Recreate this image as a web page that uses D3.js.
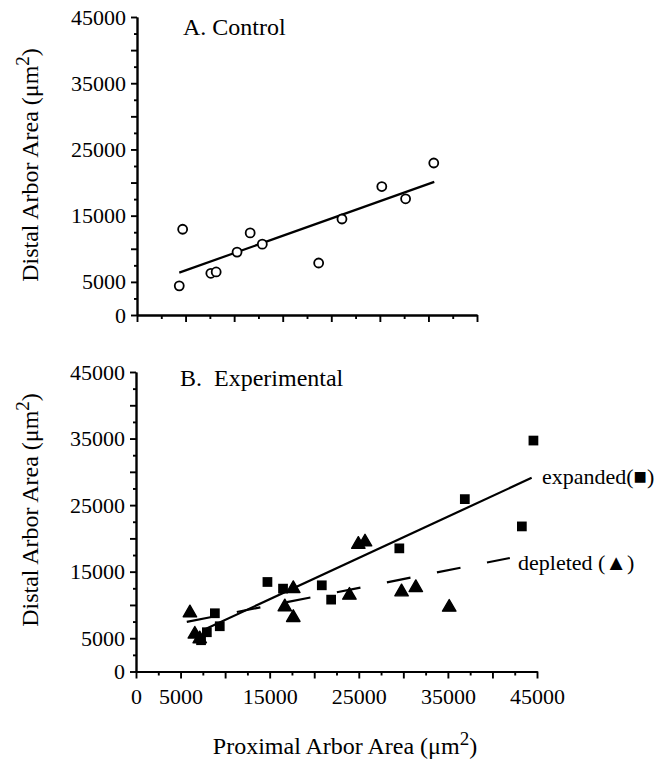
<!DOCTYPE html>
<html>
<head>
<meta charset="utf-8">
<script src="https://cdn.jsdelivr.net/npm/d3@7"></script>
<style>
  body { margin: 0; background: #fff; }
  svg text { font-family: "Liberation Serif", "DejaVu Serif", serif; fill: #000; }
</style>
</head>
<body>
<div id="chart"></div>
<script>
// Panel A: control arbors (open circles)
const controlX = [4700, 4350, 7600, 8150, 10300, 11650, 12900, 18700, 21100, 25200, 27650, 30550];
const controlY = [12950, 4400, 6300, 6500, 9500, 12400, 10700, 7850, 14500, 19400, 17550, 22950];
const controlFitX = [4350, 30600];
const controlFitY = [6400, 20100];

// Panel B: expanded (filled squares) and depleted (filled triangles)
const expandedX = [8850, 9400, 7300, 7950, 14750, 16500, 20850, 21900, 29550, 36900, 43300, 44600];
const expandedY = [8750, 6800, 4700, 5900, 13450, 12450, 12950, 10800, 18500, 25900, 21800, 34700];
const depletedX = [6050, 6600, 7150, 16700, 17650, 17650, 24950, 25700, 23950, 29800, 31400, 35150];
const depletedY = [8800, 5600, 4900, 9700, 8100, 12450, 19100, 19450, 11450, 11950, 12600, 9650];
const expandedFitX = [7500, 44400];
const expandedFitY = [6200, 29100];
const depletedFitX = [5700, 41950];
const depletedFitY = [7450, 17050];

// Axis ticks
const yTickLabels = [0, 5000, 15000, 25000, 35000, 45000];
const xTickLabels = [0, 5000, 15000, 25000, 35000, 45000];

const width = 668, height = 761;
const svg = d3.select('#chart').append('svg')
    .attr('width', width)
    .attr('height', height);

const fontSize = 22;

// Scales
const xA = d3.scaleLinear().domain([0, 35000]).range([137, 477]);
const yA = d3.scaleLinear().domain([0, 45000]).range([315, 17]);
const xB = d3.scaleLinear().domain([0, 45000]).range([136, 537]);
const yB = d3.scaleLinear().domain([0, 45000]).range([671.5, 372]);

function drawYAxis(y, x0) {
    const minor = d3.axisLeft(y)
        .tickValues(d3.range(2500, 45000, 5000))
        .tickSize(3).tickSizeOuter(0).tickFormat('');
    const major = d3.axisLeft(y)
        .tickValues(d3.range(0, 45001, 5000))
        .tickSize(6).tickSizeOuter(0).tickPadding(5)
        .tickFormat(d => yTickLabels.includes(d) ? d : '');
    [minor, major].forEach(ax => {
        const g = svg.append('g').attr('transform', `translate(${x0},0)`).call(ax);
        g.selectAll('path, line').attr('stroke', '#000').attr('stroke-width', 1.9);
        g.selectAll('text').style('font-size', fontSize + 'px');
    });
}

function drawXAxis(x, y0, maxVal, labels) {
    const minor = d3.axisBottom(x)
        .tickValues(d3.range(2500, maxVal, 5000))
        .tickSize(4).tickSizeOuter(0).tickFormat('');
    const major = d3.axisBottom(x)
        .tickValues(d3.range(0, maxVal + 1, 5000))
        .tickSize(7).tickSizeOuter(0).tickPadding(10)
        .tickFormat(d => labels.includes(d) ? d : '');
    [minor, major].forEach(ax => {
        const g = svg.append('g').attr('transform', `translate(0,${y0})`).call(ax);
        g.selectAll('path, line').attr('stroke', '#000').attr('stroke-width', 1.9);
        g.selectAll('text').style('font-size', fontSize + 'px');
    });
}

// Axes
drawYAxis(yA, 137);
drawXAxis(xA, 315, 35000, []);
drawYAxis(yB, 136);
drawXAxis(xB, 671.5, 45000, xTickLabels);

// Axis titles
function yTitle(cy) {
    const t = svg.append('text')
        .attr('transform', `translate(38,${cy}) rotate(-90)`)
        .attr('text-anchor', 'middle')
        .style('font-size', '24px');
    t.append('tspan').text('Distal Arbor Area (\u03BCm');
    t.append('tspan').attr('dy', -9).style('font-size', '19px').text('2');
    t.append('tspan').attr('dy', 9).text(')');
}
yTitle(165);
yTitle(510);

const xt = svg.append('text')
    .attr('x', 345).attr('y', 754)
    .attr('text-anchor', 'middle')
    .style('font-size', '24px');
xt.append('tspan').text('Proximal Arbor Area (\u03BCm');
xt.append('tspan').attr('dy', -9).style('font-size', '19px').text('2');
xt.append('tspan').attr('dy', 9).text(')');

// Panel titles
svg.append('text').attr('x', 183).attr('y', 35)
    .style('font-size', '24px').text('A. Control');
svg.append('text').attr('x', 180).attr('y', 386)
    .style('font-size', '24px').attr('xml:space', 'preserve').text('B.  Experimental');

// Regression lines
const line = (x, y) => d3.line().x(d => x(d[0])).y(d => y(d[1]));
svg.append('path')
    .datum(d3.zip(controlFitX, controlFitY))
    .attr('d', line(xA, yA))
    .attr('fill', 'none').attr('stroke', '#000').attr('stroke-width', 2.2);
svg.append('path')
    .datum(d3.zip(expandedFitX, expandedFitY))
    .attr('d', line(xB, yB))
    .attr('fill', 'none').attr('stroke', '#000').attr('stroke-width', 2.2);
svg.append('path')
    .datum(d3.zip(depletedFitX, depletedFitY))
    .attr('d', line(xB, yB))
    .attr('fill', 'none').attr('stroke', '#000').attr('stroke-width', 2.2)
    .attr('stroke-dasharray', '24,27');

// Points
svg.selectAll('.ctrl')
    .data(d3.zip(controlX, controlY))
    .enter().append('circle')
    .attr('class', 'ctrl')
    .attr('cx', d => xA(d[0]))
    .attr('cy', d => yA(d[1]))
    .attr('r', 4.5)
    .attr('fill', '#fff').attr('stroke', '#000').attr('stroke-width', 1.8);

svg.selectAll('.exp')
    .data(d3.zip(expandedX, expandedY))
    .enter().append('path')
    .attr('class', 'exp')
    .attr('transform', d => `translate(${xB(d[0])},${yB(d[1])})`)
    .attr('d', d3.symbol().type(d3.symbolSquare).size(95))
    .attr('fill', '#000');

svg.selectAll('.dep')
    .data(d3.zip(depletedX, depletedY))
    .enter().append('path')
    .attr('class', 'dep')
    .attr('transform', d => `translate(${xB(d[0])},${yB(d[1])})`)
    .attr('d', d3.symbol().type(d3.symbolTriangle).size(78))
    .attr('fill', '#000').attr('stroke', '#000').attr('stroke-width', 1.4)
    .attr('stroke-linejoin', 'round');

// Line labels
svg.append('text').attr('x', 542).attr('y', 484)
    .style('font-size', fontSize + 'px').text('expanded(\u25A0)');
svg.append('text').attr('x', 518).attr('y', 570)
    .style('font-size', fontSize + 'px').text('depleted (\u25B2)');
</script>
</body>
</html>
